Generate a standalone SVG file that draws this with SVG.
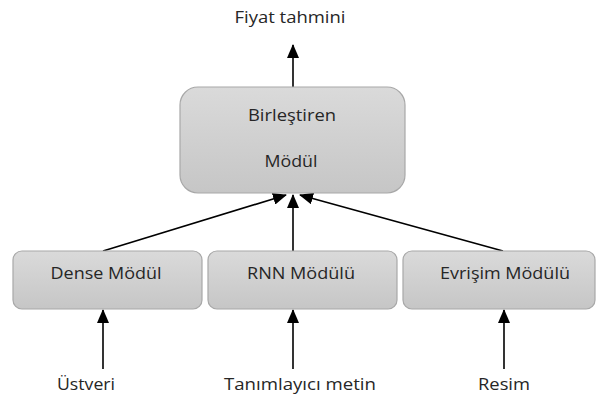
<svg xmlns="http://www.w3.org/2000/svg" width="603" height="399" viewBox="0 0 603 399">
  <defs>
    <linearGradient id="boxFill" x1="0" y1="0" x2="0" y2="1">
      <stop offset="0" stop-color="#dadada"/>
      <stop offset="1" stop-color="#c6c6c6"/>
    </linearGradient>
    <marker id="arrow" viewBox="0 0 14 12" refX="13" refY="6" markerWidth="14" markerHeight="12" markerUnits="userSpaceOnUse" orient="auto">
      <path d="M0,0 L14,6 L0,12 Z" fill="#000"/>
    </marker>
  </defs>
  <style>
    .box { fill: url(#boxFill); stroke: #a8a8a8; stroke-width: 1.2; }
    .label { font-family: "Open Sans", "Liberation Sans", sans-serif; font-size: 16.5px; fill: #262626; text-anchor: middle; }
    .edge { stroke: #000; stroke-width: 1.6; fill: none; marker-end: url(#arrow); }
  </style>
  <rect width="603" height="399" fill="#fff"/>

  <g id="connectors">
    <line class="edge" x1="293" y1="87" x2="293" y2="45"/>
    <line class="edge" x1="103" y1="251" x2="286" y2="195"/>
    <line class="edge" x1="293" y1="251" x2="293" y2="195"/>
    <line class="edge" x1="503" y1="251" x2="300" y2="195"/>
    <line class="edge" x1="103" y1="369" x2="103" y2="310"/>
    <line class="edge" x1="293" y1="369" x2="293" y2="310"/>
    <line class="edge" x1="504" y1="369" x2="504" y2="310"/>
  </g>

  <g id="output-label">
    <text class="label" x="290" y="23" textLength="111" lengthAdjust="spacingAndGlyphs">Fiyat tahmini</text>
  </g>

  <g id="merge-module">
    <rect class="box" x="180" y="87" width="225" height="106" rx="18"/>
    <text class="label" x="292" y="121" textLength="88" lengthAdjust="spacingAndGlyphs">Birleştiren</text>
    <text class="label" x="291" y="167" textLength="53" lengthAdjust="spacingAndGlyphs">Mödül</text>
  </g>

  <g id="dense-module">
    <rect class="box" x="13" y="251" width="189" height="58" rx="9"/>
    <text class="label" x="106" y="279" textLength="111" lengthAdjust="spacingAndGlyphs">Dense Mödül</text>
  </g>

  <g id="rnn-module">
    <rect class="box" x="208" y="251" width="189" height="58" rx="9"/>
    <text class="label" x="301" y="279" textLength="108" lengthAdjust="spacingAndGlyphs">RNN Mödülü</text>
  </g>

  <g id="conv-module">
    <rect class="box" x="403" y="251" width="192" height="58" rx="9"/>
    <text class="label" x="505" y="279" textLength="130" lengthAdjust="spacingAndGlyphs">Evrişim Mödülü</text>
  </g>

  <g id="input-metadata">
    <text class="label" x="86" y="390" textLength="58" lengthAdjust="spacingAndGlyphs">Üstveri</text>
  </g>
  <g id="input-text">
    <text class="label" x="300" y="390" textLength="152" lengthAdjust="spacingAndGlyphs">Tanımlayıcı metin</text>
  </g>
  <g id="input-image">
    <text class="label" x="504" y="390" textLength="52" lengthAdjust="spacingAndGlyphs">Resim</text>
  </g>
</svg>
